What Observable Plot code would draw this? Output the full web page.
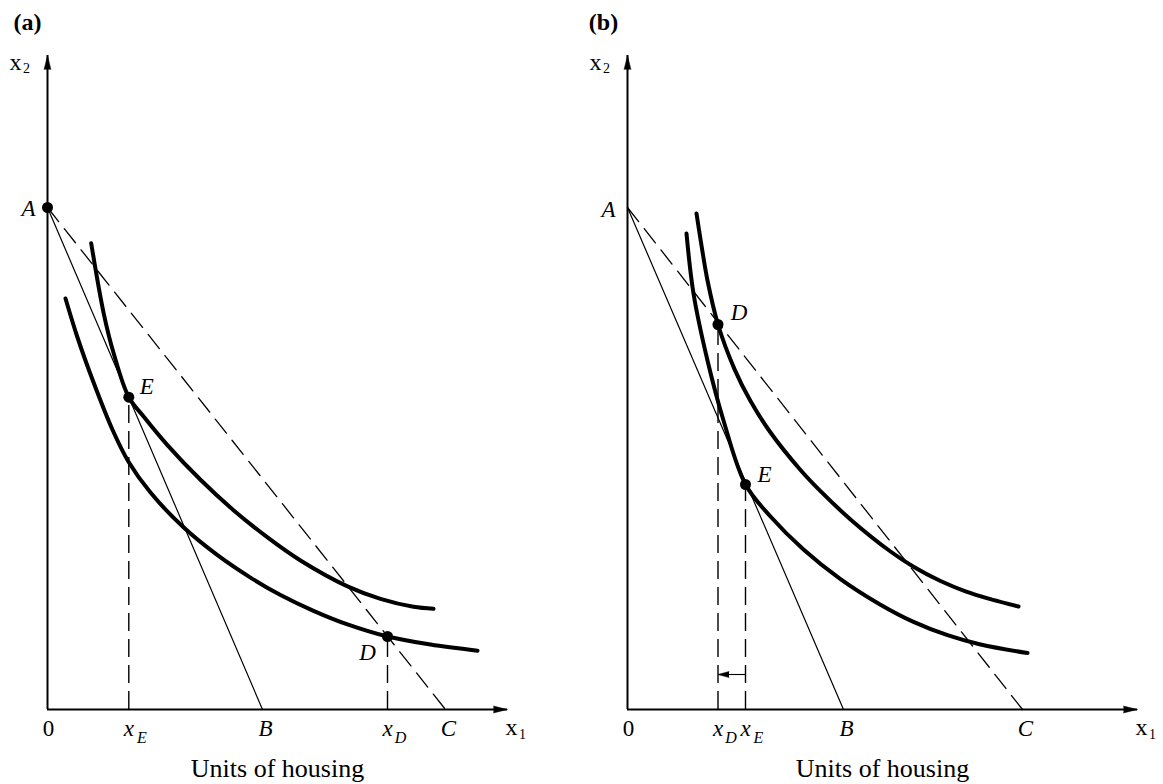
<!DOCTYPE html>
<html>
<head>
<meta charset="utf-8">
<script src="https://cdn.jsdelivr.net/npm/d3@7"></script>
<script src="https://cdn.jsdelivr.net/npm/@observablehq/plot@0.6"></script>
<style>
  body { margin: 0; background: #fff; }
  #wrap { display: flex; width: 1163px; height: 784px; background: #fff; }
  #wrap svg { display: block; }
</style>
</head>
<body>
<div id="wrap"></div>
<script>
// ---- Data (arbitrary diagram units; x = housing, y = other goods) ----
// Panel (a)
const aPoints = { A: [0, 50.2], B: [21.5, 0], C: [39.8, 0], E: [8.13, 31.23], D: [34.0, 7.3] };
const aUpperCurve = [[4.37, 46.63], [5.63, 39.57], [6.63, 35.57], [8.13, 31.23], [9.63, 29.28], [11.97, 26.47],
  [15.3, 22.97], [18.6, 19.93], [22.0, 17.21], [25.3, 14.9], [30.0, 12.31], [33.3, 11.06], [36.6, 10.27], [38.6, 10.07]];
const aLowerCurve = [[1.8, 41.1], [3.0, 37.2], [4.6, 32.72], [6.5, 27.97], [8.1, 24.77], [10.3, 21.69], [13.6, 18.22],
  [17.0, 15.43], [20.3, 13.19], [23.3, 11.45], [26.6, 9.87], [30.0, 8.51], [34.0, 7.3], [38.3, 6.49], [43.0, 5.88]];
const aAxisEnd = { x: 46.0, y: 65.4 };
const aTickLabels = [
  { at: "O", main: "0" }, { at: "E", main: "x", sub: "E" }, { at: "B", main: "B" },
  { at: "D", main: "x", sub: "D" }, { at: "C", main: "C" }
];

// Panel (b)
const bPoints = { A: [0, 50.2], B: [21.6, 0], C: [39.5, 0], E: [11.8, 22.5], D: [9.05, 38.5] };
const bUpperCurve = [[6.9, 49.6], [7.4, 46.4], [8.0, 42.9], [9.05, 38.5], [10.7, 34.04], [12.3, 30.84], [14.3, 27.7],
  [17.3, 23.95], [19.3, 21.83], [22.3, 19.01], [26.3, 15.8], [28.6, 14.28], [31.3, 12.85], [33.8, 11.82],
  [36.3, 11.04], [39.1, 10.3]];
const bLowerCurve = [[5.9, 47.6], [6.6, 41.6], [8.0, 34.9], [9.6, 28.9], [11.8, 22.5], [14.3, 19.3], [17.6, 16.0],
  [21.3, 13.04], [25.3, 10.48], [28.6, 8.76], [32.0, 7.43], [35.3, 6.5], [40.0, 5.65]];
const bAxisEnd = { x: 51.0, y: 65.4 };
const bTickLabels = [
  { at: "O", main: "0" }, { at: "D", main: "x", sub: "D" }, { at: "E", main: "x", sub: "E" },
  { at: "B", main: "B" }, { at: "C", main: "C" }
];
const bShiftArrowY = 3.5;

const axisTitle = "Units of housing";
const FONT = "'Liberation Serif', 'Times New Roman', 'DejaVu Serif', serif";

function drawPanel(p) {
  const P = p.pts;
  const px = k => (k === "O" ? 0 : P[k][0]);
  const xy = { x: d => d[0], y: d => d[1] };
  const marks = [];

  // axes with filled arrowheads
  marks.push(Plot.ruleY([0], { x1: 0, x2: p.axisEnd.x, strokeWidth: 2 }));
  marks.push(Plot.ruleX([0], { y1: 0, y2: p.axisEnd.y, strokeWidth: 2 }));
  marks.push(Plot.vector([[p.axisEnd.x, 0]], { ...xy, shape: "spike", anchor: "end", rotate: 90, length: 14, r: 3.4, fill: "black", stroke: "black", strokeWidth: 0.5 }));
  marks.push(Plot.vector([[0, p.axisEnd.y]], { ...xy, shape: "spike", anchor: "end", rotate: 0, length: 14, r: 3.4, fill: "black", stroke: "black", strokeWidth: 0.5 }));

  // budget lines
  marks.push(Plot.line([P.A, P.B], { strokeWidth: 1.2 }));
  marks.push(Plot.line([P.A, P.C], { strokeWidth: 1.3, strokeDasharray: "18,9" }));

  // vertical dashed drop lines
  marks.push(Plot.ruleX([P.E, P.D], { x: d => d[0], y1: 0, y2: d => d[1], strokeWidth: 1.4, strokeDasharray: "18,8" }));

  // indifference curves
  marks.push(Plot.line(p.upper, { curve: "catmull-rom", strokeWidth: 4 }));
  marks.push(Plot.line(p.lower, { curve: "catmull-rom", strokeWidth: 4 }));

  // points
  marks.push(Plot.dot(p.dots.map(k => P[k]), { ...xy, r: 5.5, fill: "black" }));

  // shift arrow (panel b)
  if (p.arrowY != null) {
    marks.push(Plot.link([0], { x1: P.E[0], x2: P.D[0], y1: p.arrowY, y2: p.arrowY, strokeWidth: 1.1 }));
    marks.push(Plot.vector([[P.D[0], p.arrowY]], { ...xy, shape: "spike", anchor: "end", rotate: -90, length: 11, r: 3, fill: "black", stroke: "black", strokeWidth: 0.5 }));
  }

  // point labels
  for (const [k, dx, dy] of p.pointLabels) {
    marks.push(Plot.text([P[k]], { ...xy, text: () => k, dx, dy, fontFamily: FONT, fontStyle: "italic", fontSize: 23 }));
  }

  // tick labels under the x axis
  for (const t of p.ticks) {
    const italic = t.main !== "0";
    const dx = t.sub ? 0 : (italic ? 3 : 1);
    marks.push(Plot.text([t], { x: () => px(t.at), y: () => 0, text: () => t.main, dx, dy: 19, fontFamily: FONT, fontStyle: italic ? "italic" : "normal", fontSize: 23 }));
    if (t.sub) {
      marks.push(Plot.text([t], { x: () => px(t.at), y: () => 0, text: () => t.sub, dx: 13, dy: 28, fontFamily: FONT, fontStyle: "italic", fontSize: 16 }));
    }
  }

  // axis labels x1 and x2
  marks.push(Plot.text([0], { x: () => p.axisEnd.x, y: () => 0, text: () => "x", dx: 4, dy: 18, fontFamily: FONT, fontSize: 24 }));
  marks.push(Plot.text([0], { x: () => p.axisEnd.x, y: () => 0, text: () => "1", dx: 15, dy: 25, fontFamily: FONT, fontSize: 14 }));
  marks.push(Plot.text([0], { x: () => 0, y: () => p.axisEnd.y, text: () => "x", dx: -32, dy: 7, fontFamily: FONT, fontSize: 24 }));
  marks.push(Plot.text([0], { x: () => 0, y: () => p.axisEnd.y, text: () => "2", dx: -21, dy: 13, fontFamily: FONT, fontSize: 14 }));

  // panel tag
  marks.push(Plot.text([0], { x: () => 0, y: () => p.axisEnd.y, text: () => p.tag, dx: p.tagDx, dy: -33, fontFamily: FONT, fontWeight: "bold", fontSize: 24 }));

  // axis title
  marks.push(Plot.text([0], { x: () => p.axisEnd.x / 2, y: () => 0, text: () => axisTitle, dy: 59, fontFamily: FONT, fontSize: 26 }));

  return Plot.plot({
    width: p.width,
    height: 784,
    x: { domain: [0, 52], range: [p.x0, p.x0 + 520], axis: null },
    y: { domain: [0, 65.4], range: [709, 55], axis: null },
    style: { background: "white", overflow: "visible", color: "black" },
    marks
  });
}

const wrap = document.getElementById("wrap");
wrap.appendChild(drawPanel({
  width: 581, x0: 47, pts: aPoints, upper: aUpperCurve, lower: aLowerCurve, axisEnd: aAxisEnd,
  dots: ["A", "E", "D"], ticks: aTickLabels, tag: "(a)", tagDx: -20,
  pointLabels: [["A", -19, 1], ["E", 18, -11], ["D", -20, 16]]
}));
wrap.appendChild(drawPanel({
  width: 582, x0: 46, pts: bPoints, upper: bUpperCurve, lower: bLowerCurve, axisEnd: bAxisEnd,
  dots: ["E", "D"], ticks: bTickLabels, tag: "(b)", tagDx: -24, arrowY: bShiftArrowY,
  pointLabels: [["A", -19, 2], ["D", 21, -12], ["E", 19, -10]]
}));
</script>
</body>
</html>
